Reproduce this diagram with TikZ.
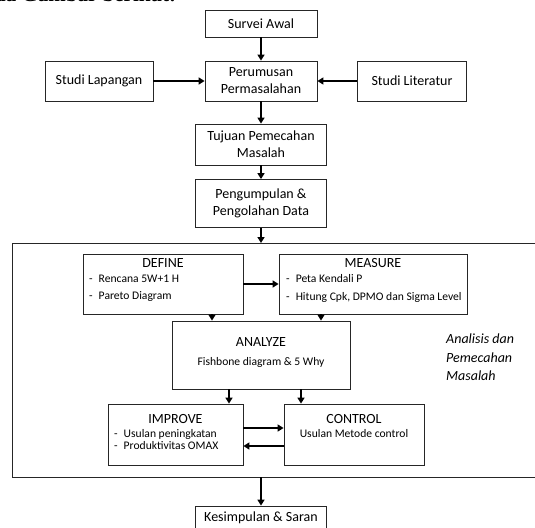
\documentclass[tikz,border=0pt]{standalone}
\usepackage{fontspec}
\setmainfont{Carlito}
\newfontfamily\serifbold{Liberation Serif}
\usetikzlibrary{arrows.meta}
\tikzset{
  box/.style={draw=black!85, line width=0.8pt, fill=white, align=center, inner sep=0pt, font=\fontsize{14}{17}\selectfont},
  ttl/.style={inner sep=0pt, font=\fontsize{14}{17}\selectfont},
  itm/.style={inner sep=0pt, anchor=west, font=\fontsize{11.6}{14}\selectfont},
  arr/.style={line width=1.7pt, -{Triangle[length=6pt,width=7pt]}},
  frame/.style={line width=1pt, draw=black!85}
}
\begin{document}
\begin{tikzpicture}[x=1pt,y=-1pt]
\useasboundingbox (0,0) rectangle (535,527);
% cut-off caption line at the top
\node[anchor=base west, inner sep=0pt, font=\serifbold\bfseries\fontsize{21}{24}\selectfont] (cap) at (-6,1.2) {da Gambar berikut:};
% top chain
\node[box, minimum width=112pt, minimum height=27pt] (survei) at (261,23.5) {Survei Awal};
\node[box, minimum width=108pt, minimum height=40pt] (lap) at (99,81) {Studi Lapangan};
\node[box, minimum width=112pt, minimum height=40pt] (perum) at (261,81) {Perumusan\\Permasalahan};
\node[box, minimum width=109pt, minimum height=40pt] (lit) at (412,81) {Studi Literatur};
\node[box, minimum width=131pt, minimum height=41pt] (tujuan) at (261,144.5) {Tujuan Pemecahan\\Masalah};
\node[box, minimum width=131pt, minimum height=48pt] (kumpul) at (261,203.5) {Pengumpulan \&\\Pengolahan Data};
\draw[arr] (survei) -- (perum);
\draw[arr] (lap) -- (perum);
\draw[arr] (lit) -- (perum);
\draw[arr] (perum) -- (tujuan);
\draw[arr] (tujuan) -- (kumpul);
% big frame (right side beyond the picture)
\coordinate (bigTR) at (545,243);
\coordinate (bigTL) at (12,243);
\coordinate (bigBL) at (12,477);
\coordinate (bigBR) at (545,477);
\draw[frame] (bigTR) -- (bigTL) -- (bigBL) -- (bigBR);
\draw[arr] (kumpul.south) -- (kumpul.south |- bigTL);
% DEFINE
\node[box, minimum width=160pt, minimum height=60pt] (define) at (163,284) {};
\node[ttl] (defT) at (163,263) {DEFINE};
\node[itm] (def1) at (89,279) {-\hspace{6pt}Rencana 5W+1 H};
\node[itm] (def2) at (89,297) {-\hspace{6pt}Pareto Diagram};
% MEASURE
\node[box, minimum width=188pt, minimum height=60pt] (measure) at (373,284) {};
\node[ttl] (meaT) at (373,263) {MEASURE};
\node[itm] (mea1) at (286,279) {-\hspace{6pt}Peta Kendali P};
\node[itm] (mea2) at (286,297) {-\hspace{6pt}Hitung Cpk, DPMO dan Sigma Level};
\draw[arr] (define) -- (measure);
% ANALYZE
\node[box, minimum width=178pt, minimum height=68pt] (analyze) at (261,355) {};
\node[ttl] (anaT) at (261,342) {ANALYZE};
\node[inner sep=0pt, font=\fontsize{11.6}{14}\selectfont] (ana1) at (261,362) {Fishbone diagram \& 5 Why};
\draw[arr] ([xshift=49pt]define.south) -- ([xshift=49pt]define.south |- analyze.north);
\draw[arr] ([xshift=-52pt]measure.south) -- ([xshift=-52pt]measure.south |- analyze.north);
% IMPROVE / CONTROL
\node[box, minimum width=135pt, minimum height=61pt] (improve) at (175.5,434.5) {};
\node[ttl] (impT) at (175.5,419) {IMPROVE};
\node[itm] (imp1) at (114,434) {-\hspace{6pt}Usulan peningkatan};
\node[itm] (imp2) at (114,446) {-\hspace{6pt}Produktivitas OMAX};
\node[box, minimum width=140pt, minimum height=61pt] (control) at (354,434.5) {};
\node[ttl] (conT) at (354,419) {CONTROL};
\node[inner sep=0pt, font=\fontsize{11.6}{14}\selectfont] (con1) at (354,434) {Usulan Metode control};
\draw[arr] ([xshift=-32pt]analyze.south) -- ([xshift=-32pt]analyze.south |- improve.north);
\draw[arr] ([xshift=40pt]analyze.south) -- ([xshift=40pt]analyze.south |- control.north);
\draw[arr] (improve.east |- 0,428) -- (control.west |- 0,428);
\draw[arr] (control.west |- 0,446) -- (improve.east |- 0,446);
% side label
\node[anchor=north west, align=left, inner sep=0pt, font=\itshape\fontsize{14}{18.5}\selectfont] (side) at (446,334) {Analisis dan\\Pemecahan\\Masalah};
% conclusion
\node[box, minimum width=131pt, minimum height=44pt] (kesim) at (261,528) {};
\node[ttl] (kesT) at (261,518) {Kesimpulan \& Saran};
\draw[arr] (kumpul.south |- bigBL) -- (kesim.north);
\end{tikzpicture}
\end{document}
